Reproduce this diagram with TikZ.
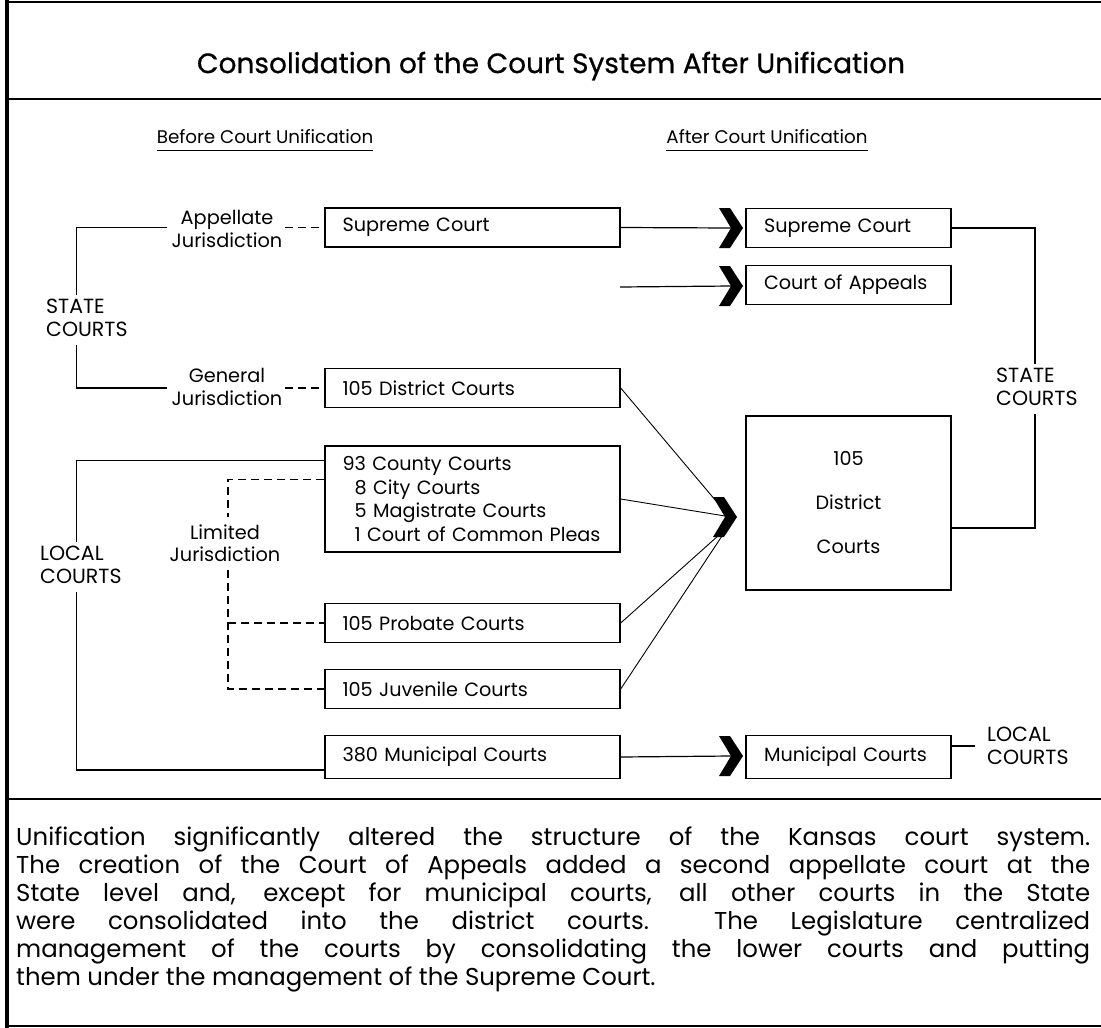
\documentclass[tikz,border=0pt]{standalone}
\usepackage{fontspec}
\setmainfont{Poppins}
\begin{document}
\begin{tikzpicture}[x=1pt,y=-1pt,
 bx/.style={draw, line width=1.4pt, inner ysep=0pt, minimum height=39pt, align=left, font=\fontsize{19.2}{22}\selectfont},
 bbox/.style={bx, text width=260pt, inner xsep=17.5pt},
 abox/.style={bx, text width=169pt, inner xsep=18pt},
 lbl/.style={inner sep=0pt, align=center, font=\fontsize{19.3}{22.5}\selectfont},
 caps/.style={inner sep=0pt, align=left, anchor=west, font=\fontsize{20.5}{22.5}\selectfont},
 conn/.style={line width=1.2pt},
 dsh/.style={line width=1.1pt, dash pattern=on 8pt off 5pt},
 thinl/.style={line width=0.9pt},
 chev/.pic={\fill (-12,-20) -- (-1,-20) -- (12,0) -- (-1,20) -- (-12,20) -- (0,0) -- cycle;}
]
\useasboundingbox (0,0) rectangle (1101,1028);
% frame
\draw[line width=2.2pt] (5,2) -- (1101,2);
\draw[line width=4.5pt] (7,0) -- (7,1028);
\draw[line width=1.8pt] (7,99) -- (1101,99);
\draw[line width=1.8pt] (7,799) -- (1101,799);
\draw[line width=2pt] (7,1026) -- (1101,1026);
% title
\node[inner sep=0pt, font=\fontsize{28}{30}\selectfont\addfontfeature{FakeBold=0.6}] (title) at (551,66) {Consolidation of the Court System After Unification};
\node[inner sep=0pt, font=\fontsize{18.3}{20}\selectfont] (hb) at (265,137) {Before Court Unification};
\node[inner sep=0pt, font=\fontsize{18.3}{20}\selectfont] (ha) at (767,137) {After Court Unification};
\draw[line width=1pt] ([yshift=-6pt]hb.south west) -- ([yshift=-6pt]hb.south east);
\draw[line width=1pt] ([yshift=-6pt]ha.south west) -- ([yshift=-6pt]ha.south east);
% before boxes
\node[bbox] (bSup) at (472.5,227.5) {Supreme Court};
\node[bbox] (bDist) at (472.5,388) {105 District Courts};
\node[bbox, minimum height=106pt, font=\fontsize{19.2}{23.7}\selectfont] (bCounty) at (472.5,499) {\mbox{93 County Courts}\\\mbox{\phantom{9}8 City Courts}\\\mbox{\phantom{9}5 Magistrate Courts}\\\mbox{\phantom{9}1 Court of Common Pleas}};
\node[bbox] (bProb) at (472.5,623) {105 Probate Courts};
\node[bbox] (bJuv) at (472.5,689) {105 Juvenile Courts};
\node[bbox, minimum height=43pt] (bMun) at (472.5,757) {380 Municipal Courts};
% after boxes
\node[abox] (aSup) at (848.5,228) {Supreme Court};
\node[abox] (aApp) at (848.5,285) {\mbox{Court of Appeals}};
\node[abox, minimum height=174pt, align=center] (aDist) at (848.5,503) {105\\[22pt]District\\[22pt]Courts};
\node[abox, minimum height=43pt] (aMun) at (848.5,757) {\mbox{Municipal Courts}};
% labels
\node[lbl] (appl) at (227,229) {Appellate\\Jurisdiction};
\node[lbl] (genl) at (227,387) {General\\Jurisdiction};
\node[lbl] (liml) at (225,543) {Limited\\Jurisdiction};
\node[caps] (stL) at (46,318) {STATE\\COURTS};
\node[caps] (loL) at (40,565) {LOCAL\\COURTS};
\node[caps] (stR) at (996,387) {STATE\\COURTS};
\node[caps] (loR) at (987,746) {LOCAL\\COURTS};
% helper coordinates
\coordinate (sx) at (76.5,0);
\coordinate (dx) at (228,0);
\coordinate (rx) at (1035,0);
\coordinate (c1) at (731,228);
\coordinate (c2) at (731,286);
\coordinate (c3) at (725,517);
\coordinate (c4) at (731,756);
\coordinate (appStart) at (620,287);
\coordinate (m1) at (716,501);
\coordinate (m2) at (725,516);
\coordinate (m3) at (719,535);
\coordinate (m4) at (722,536);
% left brackets
\draw[conn] ([xshift=-5pt]appl.west |- bSup) -| ([yshift=4pt]sx |- stL.north);
\draw[conn] ([yshift=-8pt]sx |- stL.south) |- ([xshift=-5pt]genl.west |- bDist);
\draw[dsh] ([xshift=3pt]appl.east |- bSup) -- (bSup.west);
\draw[dsh] ([xshift=3pt]genl.east |- bDist) -- (bDist.west);
\draw[conn] ([yshift=-15pt]bCounty.north west) -| ([yshift=4pt]sx |- loL.north);
\draw[conn] ([yshift=-8pt]sx |- loL.south) |- ([yshift=-13pt]bMun.west);
\draw[dsh] ([yshift=-34pt]bCounty.north west) -| ([yshift=7pt]dx |- liml.north);
\draw[dsh] ([yshift=-8pt]dx |- liml.south) |- (bJuv.west);
\draw[dsh] (dx |- bProb) -- (bProb.west);
% right brackets
\draw[conn] (aSup.east) -| ([yshift=4pt]rx |- stR.north);
\draw[conn] ([yshift=-8pt]rx |- stR.south) |- ([yshift=-25pt]aDist.east);
\draw[conn] ([xshift=-12pt]loR.west) -- (loR.west -| aMun.east);
% arrows
\draw[conn] (bSup.east) -- (c1);
\draw[conn] (appStart) -- (c2);
\draw[conn] (bMun.east) -- (c4);
\draw[thinl] (bDist.east) -- (m1);
\draw[thinl] (bCounty.east) -- (m2);
\draw[thinl] (bProb.east) -- (m3);
\draw[thinl] (bJuv.east) -- (m4);
\pic at (c1) {chev};
\pic at (c2) {chev};
\pic at (c3) {chev};
\pic at (c4) {chev};
% paragraph
\node[anchor=north west, inner sep=0pt, text width=1074pt, align=justify, font=\fontsize{24.4}{28}\selectfont] (para) at (16,827) {Unification significantly altered the structure of the Kansas court system.\linebreak The creation of the Court of Appeals added a second appellate court at the\linebreak State level and, except for municipal courts, all other courts in the State\linebreak were consolidated into the district courts.\ \ The Legislature centralized\linebreak management of the courts by consolidating the lower courts and putting\linebreak them under the management of the Supreme Court.};
\end{tikzpicture}
\end{document}
